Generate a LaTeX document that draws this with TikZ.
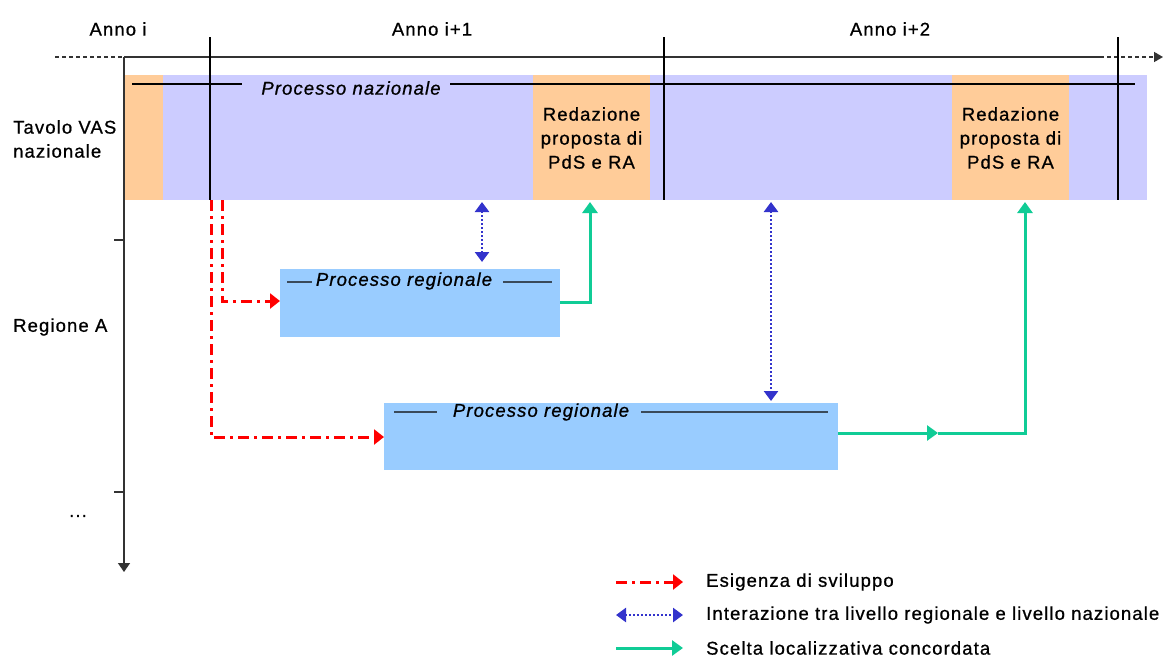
\documentclass[tikz,border=0pt]{standalone}
\usepackage{fontspec}
\setmainfont{Liberation Sans}[LetterSpace=6,FakeBold=0.8]
\usetikzlibrary{arrows.meta,decorations.markings}
\definecolor{lav}{HTML}{CCCCFF}
\definecolor{ora}{HTML}{FFCC99}
\definecolor{regb}{HTML}{99CCFF}
\definecolor{redl}{HTML}{FF0000}
\definecolor{bluel}{HTML}{3333CC}
\definecolor{greenl}{HTML}{10CC96}
\definecolor{axisc}{HTML}{333333}
\definecolor{titlel}{HTML}{3A4A5A}
\tikzset{
  lbl/.style={font=\fontsize{18.5}{24}\selectfont, inner sep=0pt},
  ital/.style={lbl, font=\fontsize{18.5}{24}\selectfont\itshape},
  band/.style={anchor=north west, inner sep=0pt, outer sep=0pt},
  axisline/.style={axisc, line width=1.5pt},
  divider/.style={black, line width=2.2pt},
  titleline/.style={titlel, line width=1.5pt},
  redarrow/.style={redl, line width=3pt, dash pattern=on 11pt off 5pt on 3pt off 5pt, -{Triangle[length=10pt,width=15pt]}},
  bluearrow/.style={bluel, line width=2.5pt, dash pattern=on 2pt off 2pt, {Triangle[length=10pt,width=14pt]}-{Triangle[length=10pt,width=14pt]}},
  greenarrow/.style={greenl, line width=3pt, -{Triangle[length=11pt,width=15pt]}},
}
\begin{document}
\begin{tikzpicture}[x=1pt,y=-1pt]
\useasboundingbox (0,0) rectangle (1164,662);
\fill[white] (0,0) rectangle (1164,662);
% national band
\node[band, fill=lav, minimum width=1023pt, minimum height=125pt] (nat) at (124,75) {};
\node[band, fill=ora, minimum width=39pt, minimum height=125pt] (ora0) at (124,75) {};
\node[band, fill=ora, minimum width=117pt, minimum height=125pt] (red1) at (533,75) {};
\node[band, fill=ora, minimum width=117pt, minimum height=125pt] (red2) at (952,75) {};
\node[lbl, align=center] (red1t) at (591.5,138) {Redazione\\proposta di\\PdS e RA};
\node[lbl, align=center] (red2t) at (1010.5,138) {Redazione\\proposta di\\PdS e RA};
% processo nazionale title
\node[ital] (pn) at (351,88) {Processo nazionale};
\coordinate (pnl1) at (132,84); \coordinate (pnl2) at (242,84);
\coordinate (pnr1) at (450,84); \coordinate (pnr2) at (1135,84);
\draw[black, line width=1.5pt] (pnl1) -- (pnl2);
\draw[black, line width=1.5pt] (pnr1) -- (pnr2);
% regional boxes
\node[band, fill=regb, minimum width=280pt, minimum height=68pt] (reg1) at (280,269) {};
\node[band, fill=regb, minimum width=454pt, minimum height=67pt] (reg2) at (384,403) {};
\node[ital] (reg1t) at (404,281) {Processo regionale};
\node[ital] (reg2t) at (541,412) {Processo regionale};
\coordinate (r1a) at (287,282); \coordinate (r1b) at (312,282);
\coordinate (r1c) at (503,282); \coordinate (r1d) at (552,282);
\coordinate (r2a) at (394,412); \coordinate (r2b) at (437,412);
\coordinate (r2c) at (641,412); \coordinate (r2d) at (828,412);
\draw[titleline] (r1a) -- (r1b); \draw[titleline] (r1c) -- (r1d);
\draw[titleline] (r2a) -- (r2b); \draw[titleline] (r2c) -- (r2d);
% axes
\coordinate (origin) at (124,57);
\coordinate (tl) at (55,57);
\coordinate (tr) at (1100,57);
\coordinate (tend) at (1163,57);
\coordinate (vend) at (124,572);
\draw[axisline] (origin) -- (tr);
\draw[axisline, dash pattern=on 4pt off 3pt] (tl) -- (origin);
\draw[axisline, dash pattern=on 4pt off 3pt, -{Triangle[length=9pt,width=10pt]}] (tr) -- (tend);
\draw[axisline, -{Triangle[length=9pt,width=12pt]}] (origin) -- (vend);
\coordinate (tk1a) at (114,240); \coordinate (tk1b) at (124,240);
\coordinate (tk2a) at (114,492); \coordinate (tk2b) at (124,492);
\draw[axisline] (tk1a) -- (tk1b);
\draw[axisline] (tk2a) -- (tk2b);
% year dividers
\coordinate (d1a) at (210,37); \coordinate (d1b) at (210,200);
\coordinate (d2a) at (664,37); \coordinate (d2b) at (664,200);
\coordinate (d3a) at (1118,37); \coordinate (d3b) at (1118,200);
\draw[divider] (d1a) -- (d1b);
\draw[divider] (d2a) -- (d2b);
\draw[divider] (d3a) -- (d3b);
% labels
\node[lbl] (y0) at (118,29) {Anno i};
\node[lbl] (y1) at (432,29) {Anno i+1};
\node[lbl] (y2) at (890,29) {Anno i+2};
\node[lbl, anchor=west, align=left] (tav) at (13,139) {Tavolo VAS\\nazionale};
\node[lbl, anchor=west] (rega) at (13,327) {Regione A};
\node[lbl] (dots) at (78,516) {...};
% red arrows
\coordinate (ra1) at (222,200); \coordinate (ra2) at (211,200);
\draw[redarrow] (ra1) |- (reg1.west |- 0,301);
\draw[redarrow] (ra2) |- (reg2.west |- 0,437);
% blue arrows
\coordinate (b1a) at (482,202); \coordinate (b1b) at (482,262);
\coordinate (b2a) at (771,202); \coordinate (b2b) at (771,401);
\draw[bluearrow] (b1a) -- (b1b);
\draw[bluearrow] (b2a) -- (b2b);
% green arrows
\coordinate (g1s) at (560,302); \coordinate (g1c) at (590,302); \coordinate (g1e) at (590,202);
\draw[greenarrow] (g1s) -- (g1c) -- (g1e);
\coordinate (g2s) at (838,433); \coordinate (g2m) at (938,433); \coordinate (g2c) at (1025,433); \coordinate (g2e) at (1025,202);
\draw[greenarrow] (g2s) -- (g2m);
\draw[greenarrow] (g2m) -- (g2c) -- (g2e);
% legend
\coordinate (l1a) at (616,582); \coordinate (l1b) at (683,582);
\coordinate (l2a) at (616,615); \coordinate (l2b) at (683,615);
\coordinate (l3a) at (616,648); \coordinate (l3b) at (683,648);
\draw[redarrow] (l1a) -- (l1b);
\draw[bluearrow] (l2a) -- (l2b);
\draw[greenarrow] (l3a) -- (l3b);
\node[lbl, anchor=west] (lt1) at (706,582) {Esigenza di sviluppo};
\node[lbl, anchor=west] (lt2) at (706,615) {Interazione tra livello regionale e livello nazionale};
\node[lbl, anchor=west] (lt3) at (706,648) {Scelta localizzativa concordata};
\end{tikzpicture}
\end{document}
